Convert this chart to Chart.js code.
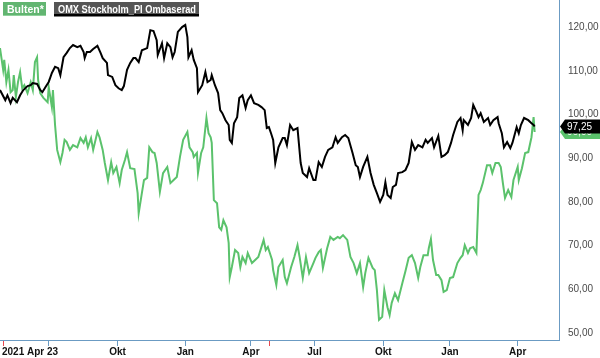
<!DOCTYPE html>
<html><head><meta charset="utf-8">
<script src="https://cdn.jsdelivr.net/npm/chart.js@4.4.0/dist/chart.umd.min.js"></script>
<style>html,body{margin:0;padding:0;background:#fff;}#wrap{width:600px;height:358px;position:relative;}</style>
</head><body><div id="wrap"><canvas id="c" width="600" height="358"></canvas></div>
<script>
const seriesNames = ['Bulten*', 'OMX Stockholm_PI Ombaserad'];

// x = trading-day index counted from 2021-04-23
const omxDays = [
  -3,2,4,7,9,13,16,19,23,26,
  28,32,35,37,40,43,46,49,52,54,
  57,60,63,66,70,73,76,77,79,82,
  85,89,92,94,98,99,103,106,109,112,
  114,117,120,123,125,128,131,136,139,142,
  145,146,150,152,155,158,160,162,165,169,
  172,174,175,178,180,183,184,188,191,193,
  196,197,200,203,205,207,210,213,214,216,
  218,221,223,226,229,231,234,237,241,244,
  247,249,251,253,255,257,260,264,266,268,
  271,274,278,281,283,287,289,293,295,298,
  301,304,307,311,314,316,320,323,326,330,
  333,335,337,340,344,347,350,353,356,359,
  361,363,366,368,371,373,377,380,383,386,
  389,392,396,399,401,405,407,411,414,417,
  420,423,425,429,432,434,435,439,442,444,
  447,449,451,454,458,460,463,467,468,471,
  473,476,479,481,485,487,489,492,496,499,
  501,502];
const omxValues = [
  105.6,103.3,104.4,102.6,103.8,102.8,104.4,105.6,106.5,106.7,
  107.2,107.0,105.6,105.1,106.3,107.4,109.5,110.9,110.6,109.0,
  113.1,114.1,115.2,115.9,115.4,115.7,114.3,112.9,114.3,114.3,
  115.0,115.7,114.1,112.9,111.8,109.0,108.6,106.7,106.0,105.6,
  106.5,110.2,111.8,112.9,112.9,112.0,114.7,115.2,119.3,119.1,
  117.0,113.6,116.3,112.9,116.3,115.4,113.1,114.3,118.9,120.0,
  120.5,117.7,113.1,114.7,112.5,110.6,105.1,106.7,109.7,107.4,
  107.9,109.0,106.7,104.9,101.0,100.3,98.7,97.6,94.2,93.5,
  98.0,99.4,103.8,104.4,101.5,103.3,104.4,102.6,102.2,101.7,
  101.0,96.9,97.1,95.7,94.2,88.9,92.5,94.6,94.6,93.0,
  97.6,96.4,96.9,88.9,86.6,85.7,87.7,85.0,85.0,89.1,
  88.0,90.3,91.9,92.5,94.8,93.5,94.8,95.3,94.6,91.2,
  88.4,88.0,85.7,88.0,90.3,86.6,83.9,82.0,80.0,81.6,
  84.5,81.6,80.9,83.4,83.9,86.6,86.8,87.3,88.9,93.7,
  91.9,93.0,92.5,94.2,93.5,94.6,92.5,95.1,90.3,90.7,
  91.4,93.5,95.3,98.3,99.2,96.4,98.7,97.6,99.2,102.2,
  100.6,99.4,100.3,98.3,99.2,97.6,98.7,99.4,98.0,95.7,
  92.5,93.7,92.3,93.5,97.1,95.7,97.6,99.2,98.7,98.0,
  97.6,97.25];

const bultenDays = [
  -3,0,1,3,5,7,9,10,12,14,
  16,18,20,23,26,28,30,32,33,35,
  38,42,43,46,47,49,51,54,56,58,
  60,63,66,70,73,76,78,80,83,85,
  89,91,94,96,99,102,104,107,110,112,
  115,117,120,124,127,128,131,133,136,138,
  141,143,145,148,151,155,158,161,164,167,
  170,174,176,179,180,183,184,187,189,192,
  194,196,197,199,202,204,206,208,211,213,
  214,216,219,222,224,226,229,231,235,238,
  241,244,246,248,250,254,255,258,260,264,
  266,268,272,275,278,280,283,286,289,293,
  295,298,300,302,306,309,312,316,318,321,
  325,328,331,334,337,340,342,345,349,351,
  353,355,358,360,363,365,367,370,373,377,
  380,383,386,389,392,394,397,401,402,404,
  406,409,411,414,416,419,422,425,429,432,
  434,436,439,441,444,447,449,451,453,457,
  460,462,465,468,470,472,474,477,480,482,
  486,487,490,493,496,499,501,502];
const bultenValues = [
  115.2,110.2,112.5,107.4,110.2,105.1,105.6,109.0,104.0,107.4,
  109.7,106.0,106.7,104.9,107.4,105.6,112.0,113.1,107.9,104.9,
  103.8,102.8,106.3,101.7,105.6,97.6,91.9,89.1,91.2,94.2,
  93.7,91.9,93.0,92.5,94.6,93.5,94.8,92.5,94.6,91.9,
  96.0,94.8,91.9,88.9,85.0,89.1,86.6,88.0,84.3,87.3,
  89.6,91.4,87.7,87.5,82.0,77.4,82.0,85.0,85.5,92.5,
  91.4,91.2,88.9,82.3,86.6,88.0,84.3,85.0,85.7,90.3,
  94.2,96.0,92.5,91.4,90.3,91.2,86.6,91.2,92.5,99.2,
  95.7,94.8,93.5,80.4,79.7,74.2,73.6,75.8,74.2,70.6,
  62.8,65.1,69.0,68.3,65.1,67.4,66.0,68.3,66.0,66.7,
  67.4,69.7,71.3,69.0,69.7,66.7,64.4,61.0,65.1,66.7,
  62.8,61.4,65.1,67.4,70.1,67.4,62.6,67.4,63.7,66.0,
  67.2,68.5,69.0,64.9,69.4,72.0,71.3,72.0,71.7,72.4,
  71.3,67.4,66.0,63.7,66.0,60.5,63.7,67.2,64.9,64.4,
  59.8,53.0,53.7,59.8,55.9,54.1,56.9,59.1,57.5,61.4,
  64.2,67.2,67.8,66.0,62.6,65.1,67.8,67.8,69.4,71.5,
  66.7,63.3,63.3,62.1,59.4,59.8,62.6,62.8,66.0,67.2,
  67.8,70.1,68.3,69.4,69.7,68.3,81.6,82.7,84.3,88.4,
  88.4,86.6,88.9,88.9,88.0,84.3,80.9,82.7,81.1,85.0,
  88.0,85.0,87.7,91.2,91.4,94.8,99.4,96.0];

const xTickDays = [0,43,108,172,234,252,294,359,422,486];
const xTickLabels = ['2021 Apr 23','','Okt','Jan','Apr','','Jul','Okt','Jan','Apr'];
const anniversaryDays = [0,252];
const yTicks = [50,60,70,80,90,100,110,120];

const GREEN = '#5bc26c';
const AXIS = '#6b9bc3';
const fmt = v => v.toFixed(2).replace('.', ',');

function tag(ctx, x, y, color, text) {
  ctx.beginPath();
  ctx.moveTo(x + 1, y);
  ctx.lineTo(x + 6, y - 7);
  ctx.lineTo(600, y - 7);
  ctx.lineTo(600, y + 7);
  ctx.lineTo(x + 6, y + 7);
  ctx.closePath();
  ctx.fillStyle = color;
  ctx.fill();
  ctx.fillStyle = '#fff';
  ctx.font = '10px "Liberation Sans", Arial, sans-serif';
  ctx.textAlign = 'left';
  ctx.textBaseline = 'middle';
  ctx.fillText(text, x + 8, y + 0.5);
}

const overlay = {
  id: 'overlay',
  afterDraw(chart) {
    const ctx = chart.ctx, xs = chart.scales.x, ys = chart.scales.y, area = chart.chartArea;
    ctx.save();
    ctx.font = 'bold 10px "Liberation Sans", Arial, sans-serif';
    ctx.fillStyle = '#111';
    ctx.textBaseline = 'alphabetic';
    xTickDays.forEach((d, i) => {
      const t = xTickLabels[i];
      if (!t) return;
      if (i === 0) { ctx.textAlign = 'left'; ctx.fillText(t, 2, 355); }
      else { ctx.textAlign = 'center'; ctx.fillText(t, xs.getPixelForValue(d), 355); }
    });
    const lastB = bultenValues[bultenValues.length - 1];
    const lastO = omxValues[omxValues.length - 1];
    tag(ctx, area.right, ys.getPixelForValue(lastB), GREEN, fmt(lastB));
    tag(ctx, area.right, ys.getPixelForValue(lastO), '#000', fmt(lastO));
    // legend boxes
    ctx.fillStyle = '#62b571';
    ctx.fillRect(3, 2, 43, 14);
    ctx.fillStyle = '#8fd19b';
    ctx.fillRect(3, 15, 43, 1);
    ctx.fillStyle = '#555';
    ctx.fillRect(54, 2, 145, 13);
    ctx.fillStyle = '#000';
    ctx.fillRect(54, 14, 145, 2.5);
    ctx.fillStyle = '#fff';
    ctx.font = 'bold 10.5px "Liberation Sans", Arial, sans-serif';
    ctx.textAlign = 'left';
    ctx.textBaseline = 'alphabetic';
    ctx.fillText(seriesNames[0], 7, 13);
    ctx.fillText(seriesNames[1], 58, 13, 138);
    ctx.restore();
  }
};

new Chart(document.getElementById('c').getContext('2d'), {
  type: 'line',
  data: {
    datasets: [
      { label: seriesNames[1], data: omxDays.map((d, i) => ({ x: d, y: omxValues[i] })),
        borderColor: '#000', borderWidth: 2, pointRadius: 0, tension: 0, fill: false },
      { label: seriesNames[0], data: bultenDays.map((d, i) => ({ x: d, y: bultenValues[i] })),
        borderColor: GREEN, borderWidth: 2, pointRadius: 0, tension: 0, fill: false }
    ]
  },
  options: {
    responsive: false, animation: false, devicePixelRatio: 1,
    layout: { padding: 0 },
    plugins: { legend: { display: false }, tooltip: { enabled: false } },
    scales: {
      x: {
        type: 'linear', position: 'bottom', min: -3, max: 525,
        afterBuildTicks: s => { s.ticks = xTickDays.map(v => ({ value: v })); },
        afterFit: s => { s.height = 18; s.paddingLeft = 0; s.paddingRight = 0; },
        grid: { drawOnChartArea: false, drawTicks: true, tickLength: 6, lineWidth: 1,
          tickColor: c => (c.tick && anniversaryDays.includes(c.tick.value)) ? '#e8474f' : AXIS },
        border: { display: true, color: AXIS, width: 1 },
        ticks: { display: false, autoSkip: false }
      },
      y: {
        type: 'linear', position: 'right', min: 48.4, max: 126.2,
        afterBuildTicks: s => { s.ticks = yTicks.map(v => ({ value: v })); },
        afterFit: s => { s.width = 41; s.paddingTop = 0; s.paddingBottom = 0; },
        grid: { display: false, drawTicks: false },
        border: { display: true, color: AXIS, width: 1 },
        ticks: { padding: 9, color: '#4a4a4a', font: { family: '"Liberation Sans", Arial, sans-serif', size: 10 },
          callback: v => fmt(v) }
      }
    }
  },
  plugins: [overlay]
});
</script></body></html>
